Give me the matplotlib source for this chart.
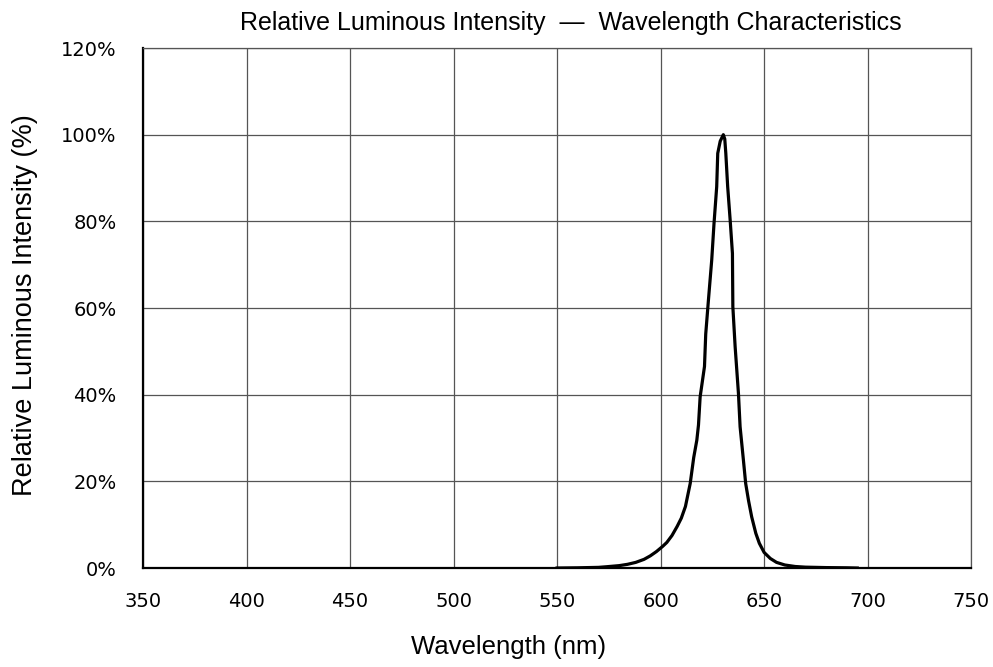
import numpy as np
import matplotlib
matplotlib.use("Agg")
import matplotlib.pyplot as plt

# spectrum (wavelength nm, relative intensity %)
wavelength = [550, 560, 570, 574, 580, 584, 588, 592, 595, 598, 601, 603, 605.5,
              608, 610, 612, 614.3, 616, 617.5, 618.3, 619.1, 620.3, 621.2, 621.8,
              623.1, 624.7, 625.8, 627.1, 627.6, 628.8, 630.3, 631.0, 631.5, 632.4,
              633.6, 634.7, 634.9, 636, 637.6, 638.4, 640, 641.1, 642.5, 644, 646,
              647.7, 650, 653, 656, 660, 665, 670, 680, 690, 695]
intensity = [0, 0.05, 0.15, 0.3, 0.55, 0.85, 1.3, 2.0, 2.8, 3.8, 5.0, 5.9, 7.5,
             9.6, 11.5, 14.2, 19.5, 25.5, 29.5, 33.0, 39.5, 43.5, 46.5, 54.0,
             61.8, 71.1, 79.5, 88.0, 95.7, 98.5, 100, 99.0, 95.7, 88.0,
             80.3, 72.6, 60.3, 51.1, 40.3, 32.6, 24.9, 19.5, 15.5, 11.8, 8.0,
             5.7, 3.6, 2.2, 1.3, 0.7, 0.35, 0.2, 0.1, 0.05, 0]

x_ticks = [350, 400, 450, 500, 550, 600, 650, 700, 750]
y_ticks = [0, 20, 40, 60, 80, 100, 120]

title = "Relative Luminous Intensity  \u2014  Wavelength Characteristics"

plt.rcParams['font.family'] = ['Liberation Sans', 'DejaVu Sans']

fig = plt.figure(figsize=(9.93, 6.67), dpi=100)
ax = fig.add_axes([0.144, 0.1484, 0.834, 0.7796])

ax.plot(wavelength, intensity, color='black', linewidth=2.3, solid_joinstyle='round')

ax.set_xlim(350, 750)
ax.set_ylim(0, 120)
ax.set_xticks(x_ticks)
ax.set_yticks(y_ticks)
tick_font = dict(family='DejaVu Sans', fontsize=14)
ax.set_xticklabels([str(v) for v in x_ticks], **tick_font)
ax.set_yticklabels(["%d%%" % v for v in y_ticks], **tick_font)
ax.tick_params(length=0)
ax.tick_params(axis='x', pad=17)
ax.tick_params(axis='y', pad=19)
ax.grid(True, color='#555555', linewidth=0.9)
ax.set_axisbelow(True)

for side in ['top', 'right']:
    ax.spines[side].set_color('#555555')
    ax.spines[side].set_linewidth(0.9)
for side in ['left', 'bottom']:
    ax.spines[side].set_color('black')
    ax.spines[side].set_linewidth(1.6)

ax.set_xlabel("Wavelength (nm)", fontsize=18.5)
ax.xaxis.set_label_coords(0.442, -0.129)
ax.set_ylabel("Relative Luminous Intensity (%)", fontsize=19.5)
ax.yaxis.set_label_coords(-0.127, 0.506)
ax.set_title(title, fontsize=18, pad=13, x=0.516)

fig.savefig("out.png", dpi=100)
